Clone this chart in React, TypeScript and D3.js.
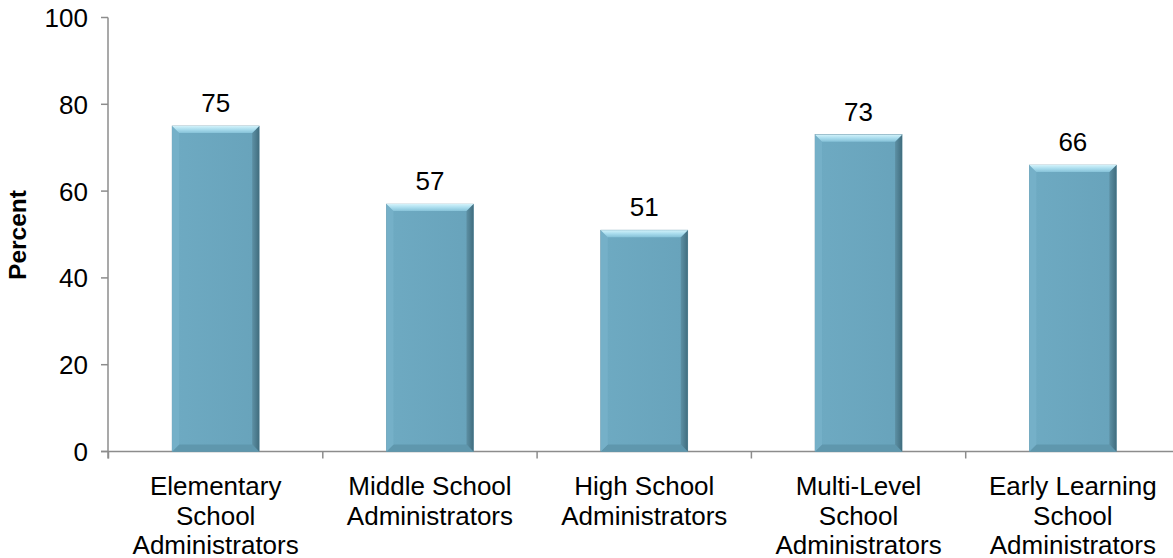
import React from "react";
import * as d3 from "d3";

const categories: string[][] = [
  ["Elementary", "School", "Administrators"],
  ["Middle School", "Administrators"],
  ["High School", "Administrators"],
  ["Multi-Level", "School", "Administrators"],
  ["Early Learning", "School", "Administrators"],
];
const values: number[] = [75, 57, 51, 73, 66];
const yTicks: number[] = [0, 20, 40, 60, 80, 100];
const yTitle = "Percent";

const W = 1173;
const H = 558;
const FONT = "'Liberation Sans', Arial, sans-serif";

export default function App() {
  const keys = categories.map((c) => c.join(" "));
  const x = d3
    .scaleBand<string>()
    .domain(keys)
    .range([108.5, 1180])
    .paddingInner(0.594)
    .paddingOuter(0.297);
  const y = d3.scaleLinear().domain([0, 100]).range([451.5, 17.5]);
  const step = x.step();
  const x0 = 108.5;
  const boundaries = d3.range(keys.length + 1).map((i) => x0 + i * step);
  const b = 7;

  return (
    <svg
      width={W}
      height={H}
      style={{ position: "absolute", left: 0, top: 0, display: "block" }}
      fontFamily={FONT}
    >
      <defs>
        <linearGradient id="topBev" x1="0" y1="0" x2="0" y2="1">
          <stop offset="0" stopColor="#d2f2fa" />
          <stop offset="0.5" stopColor="#a9dced" />
          <stop offset="1" stopColor="#86c2d8" />
        </linearGradient>
        <linearGradient id="rightBev" x1="0" y1="0" x2="1" y2="0">
          <stop offset="0" stopColor="#5d90a4" />
          <stop offset="0.5" stopColor="#4f7f92" />
          <stop offset="1" stopColor="#416d7e" />
        </linearGradient>
        <linearGradient id="mainFill" x1="0" y1="0" x2="1" y2="0">
          <stop offset="0" stopColor="#6eaac2" />
          <stop offset="1" stopColor="#68a3bb" />
        </linearGradient>
      </defs>

      {/* axes */}
      <line x1={108} x2={108} y1={y(100)} y2={y(0) + 7} stroke="#8c8c8c" strokeWidth={1.5} />
      <line x1={101} x2={W} y1={y(0)} y2={y(0)} stroke="#8c8c8c" strokeWidth={1.5} />
      {yTicks.map((t) => (
        <g key={t}>
          <line x1={101} x2={108} y1={y(t)} y2={y(t)} stroke="#8c8c8c" strokeWidth={1.5} />
          <text x={88} y={y(t) + 9.5} textAnchor="end" fontSize={26} fill="#000">
            {t}
          </text>
        </g>
      ))}
      {boundaries.map((bx, i) => (
        <line key={i} x1={bx} x2={bx} y1={y(0)} y2={y(0) + 7} stroke="#8c8c8c" strokeWidth={1.5} />
      ))}

      {/* bars */}
      {keys.map((k, i) => {
        const l = x(k)!;
        const r = l + x.bandwidth();
        const t = y(values[i]);
        const bt = y(0);
        return (
          <g key={k}>
            <rect x={l} y={t} width={r - l} height={bt - t} fill="url(#mainFill)" stroke="#5f8fa3" strokeWidth={0.6} />
            <polygon
              points={`${l},${bt} ${r},${bt} ${r - b},${bt - b} ${l + b},${bt - b}`}
              fill="#5f97ad"
            />
            <polygon
              points={`${l},${t} ${l + b},${t + b} ${l + b},${bt - b} ${l},${bt}`}
              fill="#75b0c8"
            />
            <polygon
              points={`${r},${t} ${r},${bt} ${r - b},${bt - b} ${r - b},${t + b}`}
              fill="url(#rightBev)"
            />
            <polygon
              points={`${l},${t} ${r},${t} ${r - b},${t + b} ${l + b},${t + b}`}
              fill="url(#topBev)"
            />
            <text
              x={(l + r) / 2}
              y={t - 14}
              textAnchor="middle"
              fontSize={26}
              fill="#000"
            >
              {values[i]}
            </text>
          </g>
        );
      })}

      {/* category labels */}
      {categories.map((lines, i) => {
        const cx = x(keys[i])! + x.bandwidth() / 2;
        return (
          <text key={i} textAnchor="middle" fontSize={26} fill="#000">
            {lines.map((ln, j) => (
              <tspan key={j} x={cx} y={y(0) + 43.5 + j * 29.5}>
                {ln}
              </tspan>
            ))}
          </text>
        );
      })}

      {/* y title */}
      <text
        transform={`translate(26,235) rotate(-90)`}
        textAnchor="middle"
        fontSize={24.5}
        fontWeight="bold"
        fill="#000"
      >
        {yTitle}
      </text>
    </svg>
  );
}
